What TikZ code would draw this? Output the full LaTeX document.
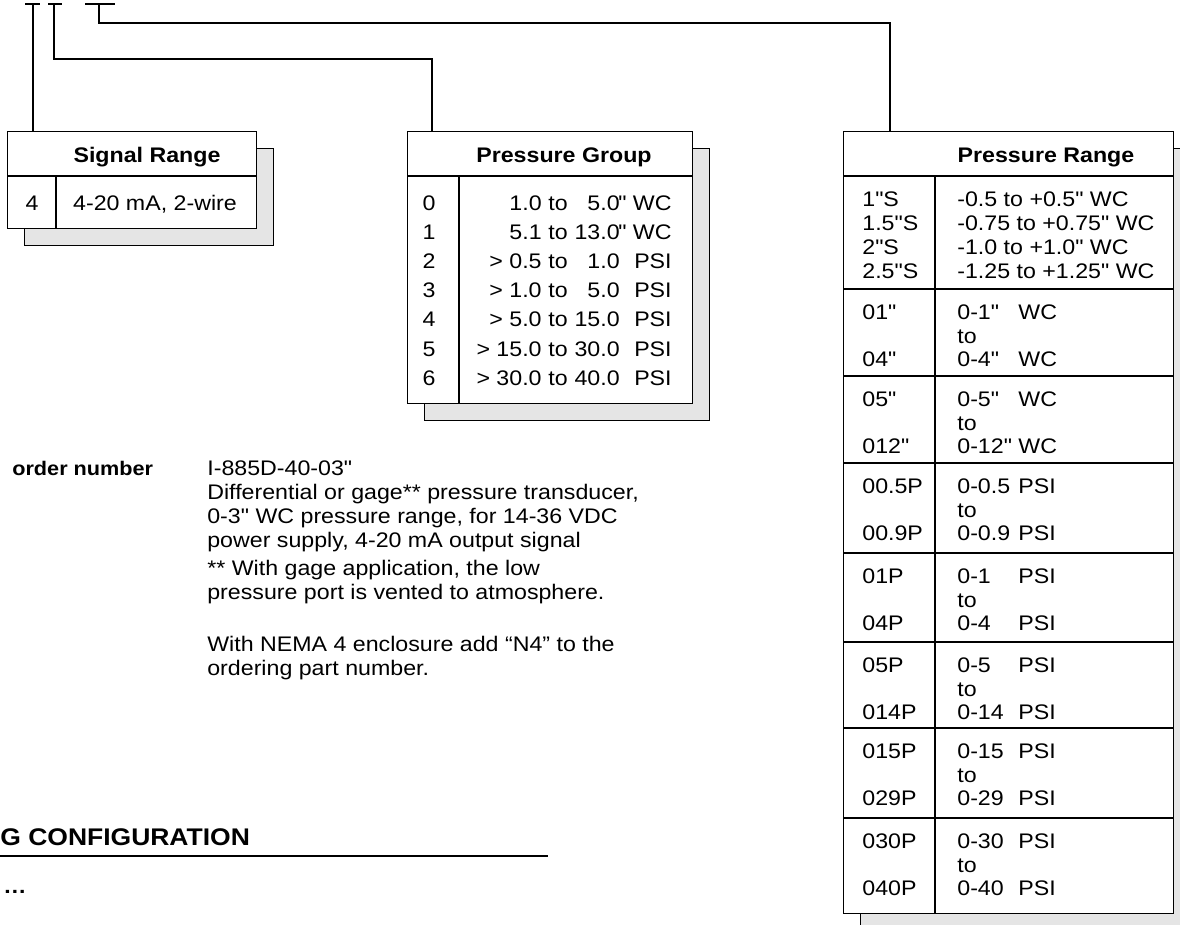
\documentclass[tikz,border=0pt]{standalone}
\usepackage{fontspec}
\setmainfont{Liberation Sans}[FakeStretch=1.1, Ligatures=TeXOff]
\usetikzlibrary{shadows}
\definecolor{shadowgray}{RGB}{229,229,229}
\newcommand\tabfont{\fontsize{12}{14}\selectfont}
\newcommand\cfgfont{\fontsize{13.7}{16}\selectfont\bfseries}
\tikzstyle{rule} = [line width=0.7pt]
\tikzstyle{panel} = [rectangle, draw, fill=white, line width=0.7pt, inner sep=0pt, anchor=north west, copy shadow={shadow xshift=0.34cm, shadow yshift=-0.34cm, fill=shadowgray, draw=black, line width=0.7pt}]
\tikzstyle{txt} = [inner sep=0pt, text height=8.6pt, text depth=0pt, font=\tabfont]
\tikzstyle{head} = [txt, font=\tabfont\bfseries]

\begin{document}
\begin{tikzpicture}[x=0.02cm, y=-0.02cm]
\useasboundingbox (0,0) rectangle (1180,925);
\node [panel, minimum width=4.98cm, minimum height=1.94cm] (sigrange) at (7,131) {};
\node [panel, minimum width=5.70cm, minimum height=5.44cm] (pgroup) at (407,131) {};
\node [panel, minimum width=6.60cm, minimum height=15.64cm] (prange) at (843,131) {};
\draw [rule] (7,176) -- (256,176);
\draw [rule] (56,176) -- (56,228);
\draw [rule] (407,176) -- (692,176);
\draw [rule] (459,176) -- (459,403);
\draw [rule] (843,176) -- (1173,176);
\draw [rule] (935,176) -- (935,913);
\node [head] (sr-head) at (147,155) {Signal Range};
\node [head] (pg-head) at (564,155) {Pressure Group};
\node [head] (pr-head) at (1046,155) {Pressure Range};
\node [txt] (sr-code) at (32,203) {4};
\node [txt] (sr-text) at (155,203) {4-20 mA, 2-wire};
\foreach \n/\lo/\hi/\u in {0/1.0/5.0/{" WC}, 1/5.1/13.0/{" WC}, 2/{> 0.5}/1.0/PSI, 3/{> 1.0}/5.0/PSI, 4/{> 5.0}/15.0/PSI, 5/{> 15.0}/30.0/PSI, 6/{> 30.0}/40.0/PSI}{
  \node [txt] (pg-n\n) at (429,203+29.1*\n) {\n};
  \node [txt, anchor=east] (pg-lo\n) at (542,203+29.1*\n) {\lo};
  \node [txt, anchor=west] (pg-to\n) at (548,203+29.1*\n) {to};
  \node [txt, anchor=east] (pg-hi\n) at (620,203+29.1*\n) {\hi};
  \node [txt, anchor=east] (pg-u\n) at (672,203+29.1*\n) {\u};
}
\foreach \c/\r [count=\i from 0] in {1"S/{-0.5 to +0.5" WC}, 1.5"S/{-0.75 to +0.75" WC}, 2"S/{-1.0 to +1.0" WC}, 2.5"S/{-1.25 to +1.25" WC}}{
  \node [txt, anchor=west] (pr-c\i) at (862,199+24*\i) {\c};
  \node [txt, anchor=west] (pr-r\i) at (957,199+24*\i) {\r};
}
\foreach \ya/\ca/\cb/\va/\vb/\u in {289/01"/04"/0-1"/0-4"/WC, 376/05"/012"/0-5"/0-12"/WC, 463/00.5P/00.9P/0-0.5/0-0.9/PSI, 553/01P/04P/0-1/0-4/PSI, 642/05P/014P/0-5/0-14/PSI, 728/015P/029P/0-15/0-29/PSI, 818/030P/040P/0-30/0-40/PSI}{
  \draw [rule] (843,\ya) -- (1173,\ya);
  \node [txt, anchor=west] (pr-a\ya) at (862,\ya+23) {\ca};
  \node [txt, anchor=west] (pr-b\ya) at (862,\ya+70) {\cb};
  \node [txt, anchor=west] (pr-va\ya) at (957,\ya+23) {\va};
  \node [txt, anchor=west] (pr-to\ya) at (957,\ya+46.5) {to};
  \node [txt, anchor=west] (pr-vb\ya) at (957,\ya+70) {\vb};
  \node [txt, anchor=west] (pr-ua\ya) at (1018,\ya+23) {\u};
  \node [txt, anchor=west] (pr-ub\ya) at (1018,\ya+70) {\u};
}
\coordinate (tk1) at (33,4);
\coordinate (tk2) at (54,4);
\coordinate (tk3) at (99,4);
\coordinate (bend2) at (54,59);
\coordinate (bend3) at (99,23);
\coordinate (pg-in) at (432,131);
\coordinate (pr-in) at (890,131);
\draw [rule] (tk1) ++(-8,0) -- ++(15,0);
\draw [rule] (tk2) ++(-6,0) -- ++(14,0);
\draw [rule] (tk3) ++(-14,0) -- ++(30,0);
\draw [rule] (tk1) -- (tk1 |- sigrange.north);
\draw [rule] (tk2) -- (bend2) -| (pg-in);
\draw [rule] (tk3) -- (bend3) -| (pr-in);
\node [head, anchor=west, font=\fontsize{11.2}{13}\selectfont\bfseries] (ord-label) at (12,468) {order number};
\foreach \ya/\txt [count=\i] in {468/{I-885D-40-03"}, 492/{Differential or gage** pressure transducer,}, 516/{0-3" WC pressure range, for 14-36 VDC}, 540/{power supply, 4-20 mA output signal}, 568/{** With gage application, the low}, 592/{pressure port is vented to atmosphere.}, 644/{With NEMA 4 enclosure add “N4” to the}, 668/{ordering part number.}}{
  \node [txt, anchor=west] (ord-line\i) at (207,\ya) {\txt};
}
\node [txt, anchor=west, font=\cfgfont, text height=9.8pt] (cfg-head) at (0,837) {G CONFIGURATION};
\coordinate (rule-l) at (0,856);
\coordinate (rule-r) at (548,856);
\draw [rule] (rule-l) -- (rule-r);
\node [head, anchor=west] (more) at (3,886) {…};
\end{tikzpicture}
\end{document}
